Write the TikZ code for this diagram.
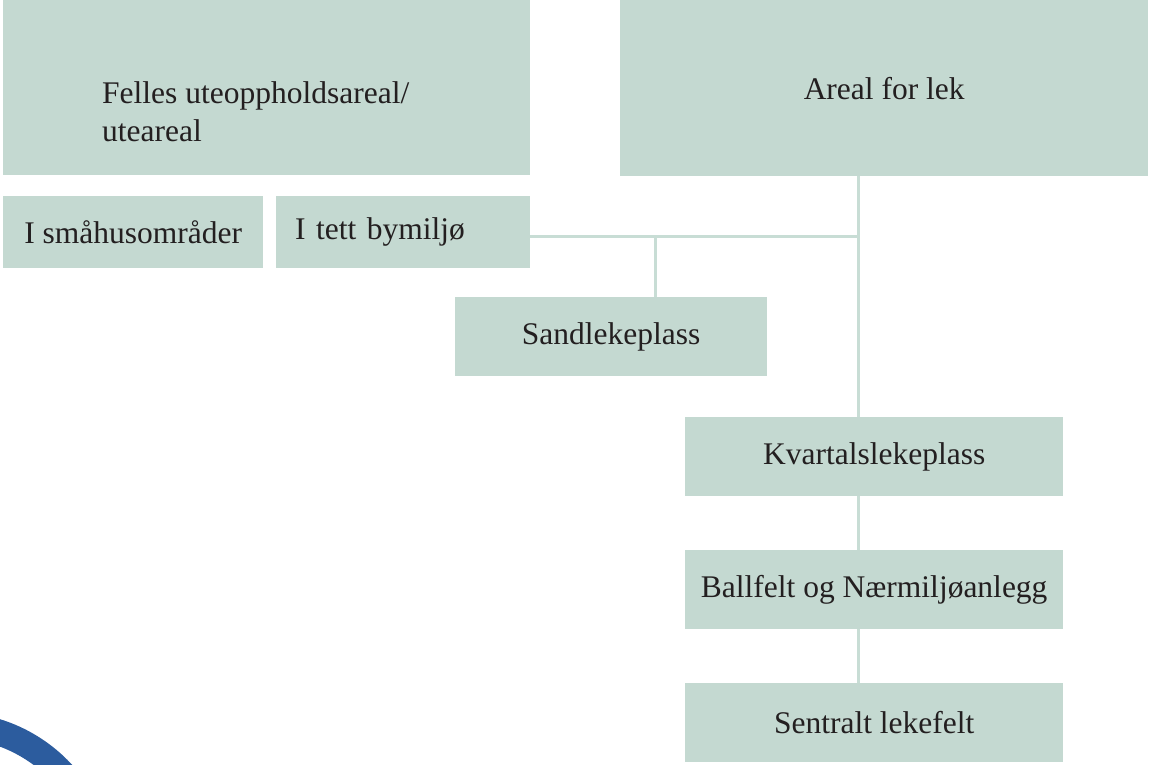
\documentclass[tikz,border=0pt]{standalone}
\usepackage{fontspec}
\setmainfont{Liberation Serif}
\definecolor{boxgreen}{HTML}{C4D9D1}
\definecolor{linegreen}{HTML}{C8DDD5}
\definecolor{txtdark}{HTML}{231F20}
\definecolor{arcblue}{HTML}{2C5C9E}
\begin{document}
\begin{tikzpicture}[x=1pt,y=-1pt,
  box/.style={fill=boxgreen, draw=none, inner sep=0pt, anchor=north west,
    font=\fontsize{31.5}{38}\selectfont, text=txtdark},
  conn/.style={draw=linegreen, line width=3pt},
  lbl/.style={font=\fontsize{31.5}{38}\selectfont, text=txtdark, inner sep=0pt}]
\useasboundingbox (0,0) rectangle (1152,764);
% blue arc bottom-left
\begin{scope}
\clip (0,0) rectangle (1152,764);
\draw[arcblue, line width=26pt] (-48,875) circle[radius=150];
\end{scope}
% boxes
\node[box, minimum width=527, minimum height=175] (felles) at (3,0) {};
\node[lbl, anchor=base west, align=left] (fellestxt) at (102,141) {Felles uteoppholdsareal/\\uteareal};
\node[box, minimum width=528, minimum height=176] (areal) at (620,0) {Areal for lek};
\node[box, minimum width=260, minimum height=72] (smaa) at (3,196) {I småhusområder};
\node[box, minimum height=72, text width=216, inner xsep=19pt, align=left] (tett) at (276,196) {I tett bymiljø};
\node[box, minimum width=312, minimum height=79] (sand) at (455,297) {Sandlekeplass};
\node[box, minimum width=378, minimum height=79] (kvartal) at (685,417) {Kvartalslekeplass};
\node[box, minimum width=378, minimum height=79] (ball) at (685,550) {Ballfelt og Nærmiljøanlegg};
\node[box, minimum width=378, minimum height=79] (sent) at (685,683) {Sentralt lekefelt};
% connectors
\coordinate (j1) at (858,236);
\coordinate (j2) at (655,236);
\draw[conn] (tett.east |- j1) -- (j1);
\draw[conn] (areal.south -| j1) -- (kvartal.north -| j1);
\draw[conn] (j2) -- (sand.north -| j2);
\draw[conn] (kvartal.south -| j1) -- (ball.north -| j1);
\draw[conn] (ball.south -| j1) -- (sent.north -| j1);
\end{tikzpicture}
\end{document}
